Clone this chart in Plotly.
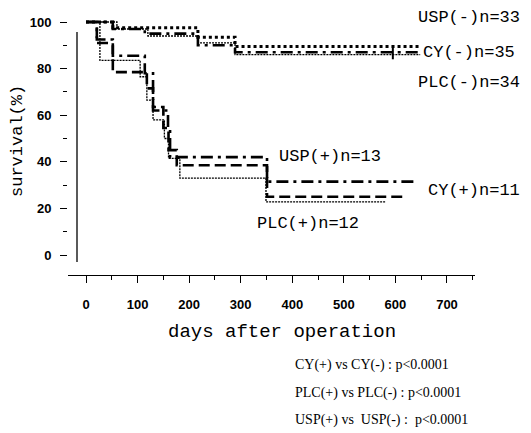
import plotly.graph_objects as go

W, H = 531, 433
OFF = 8  # default page margin of the html body

# ---- data (days after operation, survival %) ----
usp_neg_days = [0, 52, 217, 289, 648]
usp_neg_surv = [100, 97.5, 93.5, 89.5, 89.5]
cy_neg_days = [0, 52, 114, 217, 289, 648]
cy_neg_surv = [100, 97.0, 95.0, 90.0, 87.0, 87.0]
plc_neg_days = [0, 60, 120, 217, 289, 648]
plc_neg_surv = [100, 97.0, 94.0, 91.0, 86.0, 86.0]

usp_pos_days = [0, 21, 52, 114, 130, 159, 163, 351, 640]
usp_pos_surv = [100, 92.5, 85.5, 78.0, 62.0, 54.0, 42.0, 31.5, 31.5]
cy_pos_days = [0, 21, 52, 118, 130, 150, 160, 176, 351, 615]
cy_pos_surv = [100, 91.0, 78.5, 71.5, 63.5, 54.5, 45.0, 38.5, 25.0, 25.0]
plc_pos_days = [0, 27, 105, 118, 130, 152, 160, 182, 349, 580]
plc_pos_surv = [100, 83.5, 76.5, 66.5, 58.0, 50.0, 41.5, 33.0, 22.8, 22.8]

censor_days = [595]
censor_surv = [87.0]

x_ticks = [0, 100, 200, 300, 400, 500, 600, 700]
y_ticks = [0, 20, 40, 60, 80, 100]

curve_labels = ["USP(-)n=33", "CY(-)n=35", "PLC(-)n=34",
                "USP(+)n=13", "CY(+)n=11", "PLC(+)n=12"]
p_texts = ["CY(+) vs CY(-) : p<0.0001",
           "PLC(+) vs PLC(-) : p<0.0001",
           "USP(+) vs  USP(-) :  p<0.0001"]

# ---- styles ----
HEAVY_DOT = dict(color="black", width=3, dash="3px,3px")
DASHDOT = dict(color="black", width=2.6, dash="12px,5px,3px,5px")
DASHED = dict(color="black", width=2.6, dash="11px,5px")
THIN_DOT = dict(color="black", width=1.3, dash="2px,1px")

fig = go.Figure()
series = [
    (usp_neg_days, usp_neg_surv, HEAVY_DOT, "USP(-)"),
    (cy_neg_days, cy_neg_surv, DASHDOT, "CY(-)"),
    (plc_neg_days, plc_neg_surv, THIN_DOT, "PLC(-)"),
    (plc_pos_days, plc_pos_surv, THIN_DOT, "PLC(+)"),
    (cy_pos_days, cy_pos_surv, DASHED, "CY(+)"),
    (usp_pos_days, usp_pos_surv, DASHDOT, "USP(+)"),
]
for xs, ys, ln, nm in series:
    fig.add_trace(go.Scatter(x=xs, y=ys, mode="lines", line=dict(shape="hv", **ln),
                             name=nm, showlegend=False))
fig.add_trace(go.Scatter(x=censor_days, y=censor_surv, mode="markers",
                         marker=dict(symbol="line-ns", size=10,
                                     line=dict(color="black", width=2)),
                         showlegend=False))


def px(x):
    return (x - OFF) / W


def py(y):
    return 1 - (y - OFF) / H


# pixel calibration of the reference
x0_px, px_per_day = 86, 0.5157
y100_px, px_per_pct = 22, 2.33
y0_px = y100_px + 100 * px_per_pct

left_px, right_px, top_px, bot_px = 68, 475, 10, 275
xr = [(left_px - x0_px) / px_per_day, (right_px - x0_px) / px_per_day]
yr = [(y0_px - bot_px) / px_per_pct, (y0_px - top_px) / px_per_pct]

tick_font = dict(family="Liberation Sans", size=13, color="black", weight="bold")
mono = "Liberation Mono"

fig.update_layout(
    width=W, height=H,
    margin=dict(l=0, r=0, t=0, b=0),
    paper_bgcolor="white", plot_bgcolor="white",
    xaxis=dict(domain=[px(left_px), px(right_px)], range=xr,
               showgrid=False, zeroline=False, showline=True,
               linecolor="black", linewidth=1.3,
               tickmode="array", tickvals=x_ticks,
               ticks="outside", ticklen=7, tickwidth=1, tickcolor="black",
               minor=dict(dtick=50, tick0=0, ticks="outside", ticklen=4,
                          tickcolor="black"),
               tickfont=tick_font, ticklabelstandoff=10),
    yaxis=dict(domain=[py(bot_px), py(top_px)], range=yr,
               anchor="free", position=px(67),
               showgrid=False, zeroline=False, showline=False,
               tickmode="array", tickvals=y_ticks,
               ticks="outside", ticklen=7, tickwidth=1, tickcolor="black",
               minor=dict(dtick=10, tick0=0, ticks="outside", ticklen=4,
                          tickcolor="black"),
               tickfont=tick_font, ticklabelstandoff=6),
)

# detached vertical y-axis line
fig.add_shape(type="line", xref="paper", yref="paper",
              x0=px(77), x1=px(77), y0=py(32), y1=py(262),
              line=dict(color="black", width=1.3))

ann = []
ann.append(dict(text="survival(%)", x=px(17), y=py(141), textangle=-90,
                font=dict(family=mono, size=17, color="black")))
ann.append(dict(text="days after operation", x=px(282), y=py(332),
                font=dict(family=mono, size=19, color="black")))
label_pos = [(522, 17, "right"), (421, 52, "left"), (522, 82, "right"),
             (277, 157, "left"), (522, 190, "right"), (255, 223, "left")]
for t, (lx, ly, anc) in zip(curve_labels, label_pos):
    ann.append(dict(text=t, x=px(lx), y=py(ly), xanchor=anc,
                    font=dict(family=mono, size=17, color="black")))
for t, ly in zip(p_texts, [365, 393, 420]):
    ann.append(dict(text=t, x=px(293), y=py(ly), xanchor="left",
                    font=dict(family="Liberation Serif", size=14, color="black")))
for a in ann:
    a.setdefault("xanchor", "center")
    a.update(xref="paper", yref="paper", yanchor="middle", showarrow=False)
fig.update_layout(annotations=ann)

fig.write_html("out.html")
